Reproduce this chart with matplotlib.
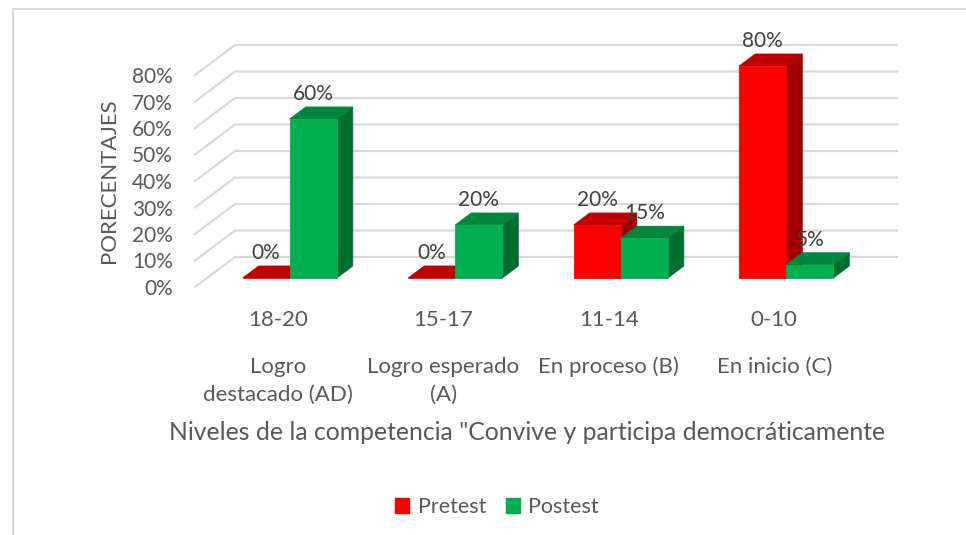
import matplotlib
matplotlib.use('Agg')
import matplotlib.pyplot as plt
from matplotlib.patches import Polygon, Patch, Rectangle

# data
rangos = ['18-20', '15-17', '11-14', '0-10']
niveles = [['Logro', 'destacado (AD)'], ['Logro esperado', '(A)'],
           ['En proceso (B)'], ['En inicio (C)']]
pretest = [0, 0, 20, 80]
postest = [60, 20, 15, 5]
series = [('Pretest', pretest), ('Postest', postest)]
yticks = [0, 10, 20, 30, 40, 50, 60, 70, 80]

# colours: front, top, side
colores = {
    'Pretest': ('#FF0000', '#C00000', '#A00000'),
    'Postest': ('#00B050', '#00873D', '#006E2F'),
}

plt.rcParams['font.family'] = ['Lato', 'DejaVu Sans']
GRIS = '#595959'

fig = plt.figure(figsize=(9.66, 5.35), dpi=100)
# axes = front plane of the 3d box
ax = fig.add_axes([195 / 966, 1 - 287 / 535, 662 / 966, 212 / 535])
ax.set_xlim(-0.5, 3.5)
ax.set_ylim(0, 80)
for s in ax.spines.values():
    s.set_visible(False)

# depth offset of back wall in data units (about 40px right, 30px up)
DX = 40 / 165.5
DY = 30 / 2.65
ANCHO = 0.284
D0, D1 = 0.3, 0.7  # bar front / back depth fraction

# left wall + back wall gridlines
for y in yticks:
    ax.plot([-0.5, -0.5 + DX, 3.5 + DX], [y, y + DY, y + DY],
            color='#D9D9D9', lw=1.6, clip_on=False, zorder=1)


def barra(x0, h, nombre):
    front, top, side = colores[nombre]
    x1 = x0 + ANCHO
    ox0, oy0 = D0 * DX, D0 * DY
    ox1, oy1 = D1 * DX, D1 * DY
    caras = [
        ([(x1 + ox0, oy0), (x1 + ox0, h + oy0), (x1 + ox1, h + oy1), (x1 + ox1, oy1)], side),
        ([(x0 + ox0, h + oy0), (x1 + ox0, h + oy0), (x1 + ox1, h + oy1), (x0 + ox1, h + oy1)], top),
        ([(x0 + ox0, oy0), (x1 + ox0, oy0), (x1 + ox0, h + oy0), (x0 + ox0, h + oy0)], front),
    ]
    for pts, c in caras:
        ax.add_patch(Polygon(pts, closed=True, fc=c, ec=c, lw=0.6,
                             clip_on=False, zorder=3))
    ax.annotate(f'{h}%', (x0 + ANCHO / 2 + ox0, h + oy1), xytext=(0, 9.5),
                textcoords='offset points', ha='center', va='center',
                fontsize=15, color='#404040', zorder=4, annotation_clip=False)


for i in range(len(rangos)):
    barra(i - ANCHO, pretest[i], 'Pretest')
    barra(i, postest[i], 'Postest')

# y axis
ax.set_yticks(yticks)
ax.set_yticklabels([f'{v}%' for v in yticks], fontsize=15, color=GRIS)
ax.tick_params(axis='y', length=0, pad=16)
ax.set_ylabel('PORECENTAJES', fontsize=16, color=GRIS, labelpad=9)

# x axis: two rows of category labels
ax.set_xticks([])
for i in range(len(rangos)):
    ax.annotate(rangos[i], (i, 0), xycoords=('data', 'axes fraction'),
                xytext=(0, -23.5), textcoords='offset points',
                ha='center', va='center', fontsize=16, color=GRIS,
                annotation_clip=False)
    for j, linea in enumerate(niveles[i]):
        ax.annotate(linea, (i, 0), xycoords=('data', 'axes fraction'),
                    xytext=(0, -(80 + 28 * j) * 0.72), textcoords='offset points',
                    ha='center', va='center', fontsize=16, color=GRIS,
                    annotation_clip=False)

fig.text(527 / 966, 1 - 432 / 535,
         'Niveles de la competencia "Convive y participa democráticamente',
         ha='center', va='center', fontsize=17.8, color=GRIS)

# legend
handles = [Patch(color=colores[n][0], label=n) for n, _ in series]
fig.legend(handles=handles, loc='center', bbox_to_anchor=(497 / 966, 1 - 507 / 535),
           ncol=2, frameon=False, fontsize=15.5, labelcolor=GRIS,
           handlelength=0.65, handleheight=0.65, handletextpad=0.4, columnspacing=0.9)

# chart frame
fig.add_artist(Rectangle((13 / 966, -0.1), 1.0, 1.1 - 9 / 535, transform=fig.transFigure,
                         fill=False, ec='#D9D9D9', lw=1.5))

fig.savefig('out.png', dpi=100)
